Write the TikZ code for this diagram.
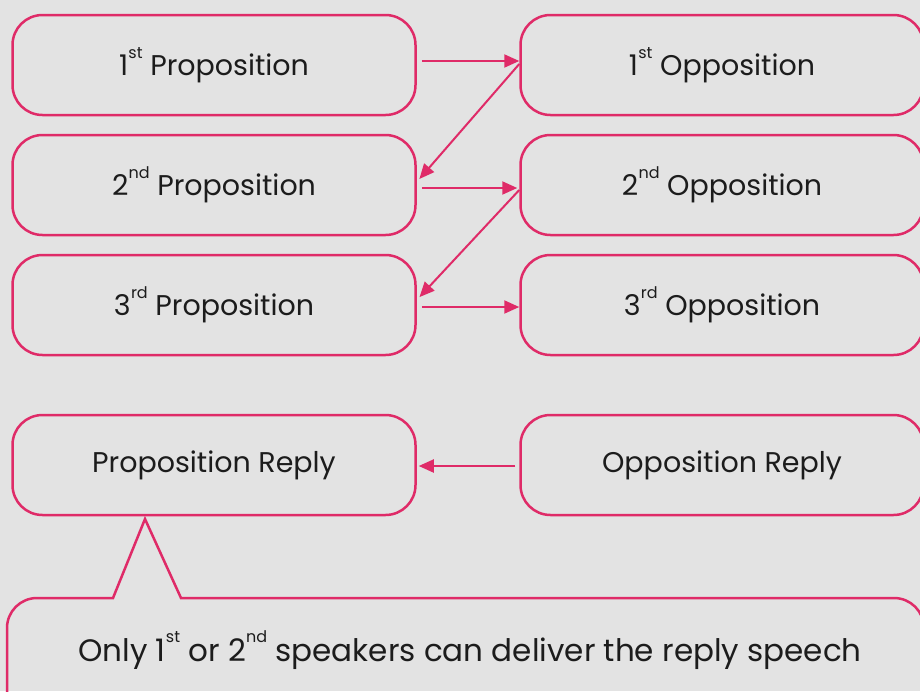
\documentclass[tikz,border=0pt]{standalone}
\usepackage{fontspec}
\setmainfont{Poppins}
\usetikzlibrary{arrows.meta}
\definecolor{crimson}{HTML}{DF2B68}
\definecolor{bggray}{HTML}{E3E3E3}
\definecolor{ink}{HTML}{1C1C1C}
\newcommand{\ordsup}[1]{\kern0.01em\raisebox{0.6em}{\fontsize{16}{16}\selectfont #1}}

\begin{document}
\begin{tikzpicture}[x=1pt,y=-1pt,
  speech/.style={draw=crimson,line width=2.5pt,rounded corners=30pt,
    minimum width=403pt,minimum height=100pt,text=ink,
    font=\fontsize{28.5}{32}\selectfont},
  turn/.style={draw=crimson,line width=2pt,-{Triangle[length=15pt,width=13pt]}}]
\fill[bggray] (0,0) rectangle (920,691);
\useasboundingbox (0,0) rectangle (920,691);
\begin{scope}
\clip (0,0) rectangle (920,691);
% proposition side
\node[speech] (p1) at (214,65) {1\ordsup{st} Proposition};
\node[speech] (p2) at (214,185) {2\ordsup{nd} Proposition};
\node[speech] (p3) at (214,305) {3\ordsup{rd} Proposition};
\node[speech] (pr) at (214,465) {Proposition Reply};
% opposition side
\node[speech] (o1) at (722,65) {1\ordsup{st} Opposition};
\node[speech] (o2) at (722,185) {2\ordsup{nd} Opposition};
\node[speech] (o3) at (722,305) {3\ordsup{rd} Opposition};
\node[speech] (or) at (722,465) {Opposition Reply};
% callout
\draw[draw=crimson,line width=2.5pt]
  (181,598) {[rounded corners=30pt] -- (924,598) -- (924,730) -- (7,730) -- (7,598)} -- (113,598) -- (145,519) -- cycle;
\node[text=ink,font=\fontsize{31}{36}\selectfont] (note) at (470,650)
  {Only 1\ordsup{st} or 2\ordsup{nd} speakers can deliver the reply speech};
\end{scope}
% order of speeches
\draw[turn,shorten <=5pt] ([yshift=4pt]p1.east) -- ([yshift=4pt]o1.west);
\draw[turn,shorten >=4pt] ([yshift=1pt]o1.west) -- ([yshift=3pt]p2.east);
\draw[turn,shorten <=5pt,shorten >=2pt] ([yshift=-3pt]p2.east) -- ([yshift=-3pt]o2.west);
\draw[turn,shorten >=4pt] ([yshift=-5pt]o2.west) -- ([yshift=5pt]p3.east);
\draw[turn,shorten <=5pt] ([yshift=-2pt]p3.east) -- ([yshift=-2pt]o3.west);
\draw[turn,shorten <=4pt,shorten >=2pt] ([yshift=-1pt]or.west) -- ([yshift=-1pt]pr.east);
\end{tikzpicture}
\end{document}
